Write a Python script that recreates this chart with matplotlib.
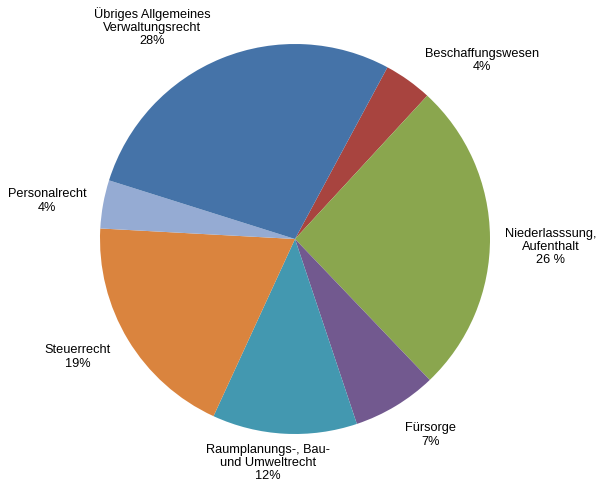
import matplotlib.pyplot as plt

plt.rcParams['font.family'] = ['Liberation Sans', 'DejaVu Sans']

labels = ['Beschaffungswesen\n4%', 'Niederlasssung,\nAufenthalt\n26 %', 'Fürsorge\n7%',
          'Raumplanungs-, Bau-\nund Umweltrecht\n12%', 'Steuerrecht\n19%',
          'Personalrecht\n4%', 'Übriges Allgemeines\nVerwaltungsrecht\n28%']
shares = [4, 26, 7, 12, 19, 4, 28]
colors = ['#A8443F', '#8AA64E', '#72598F', '#4398B0', '#DA843E', '#95ABD3', '#4573A8']
# label anchor points (pie radius = 1)
label_xy = [(0.96, 0.92), (1.31, -0.036), (0.697, -1.0), (-0.138, -1.144),
            (-1.113, -0.60), (-1.272, 0.20), (-0.733, 1.092)]

fig = plt.figure(figsize=(6.01, 4.85), dpi=100)
ax = fig.add_axes([0, 0, 1, 1])
ax.pie(shares, colors=colors, startangle=61.7, counterclock=False,
       wedgeprops={'linewidth': 0}, normalize=True)
for lab, (x, y) in zip(labels, label_xy):
    ax.text(x, y, lab, ha='center', va='center', fontsize=9.2, color='#000000',
            linespacing=1.12)
ax.set_xlim(-295/195, (601-295)/195)
ax.set_ylim(-(485-240)/195, 240/195)
ax.set_aspect('auto')
ax.axis('off')
fig.savefig('out.png', dpi=100)
